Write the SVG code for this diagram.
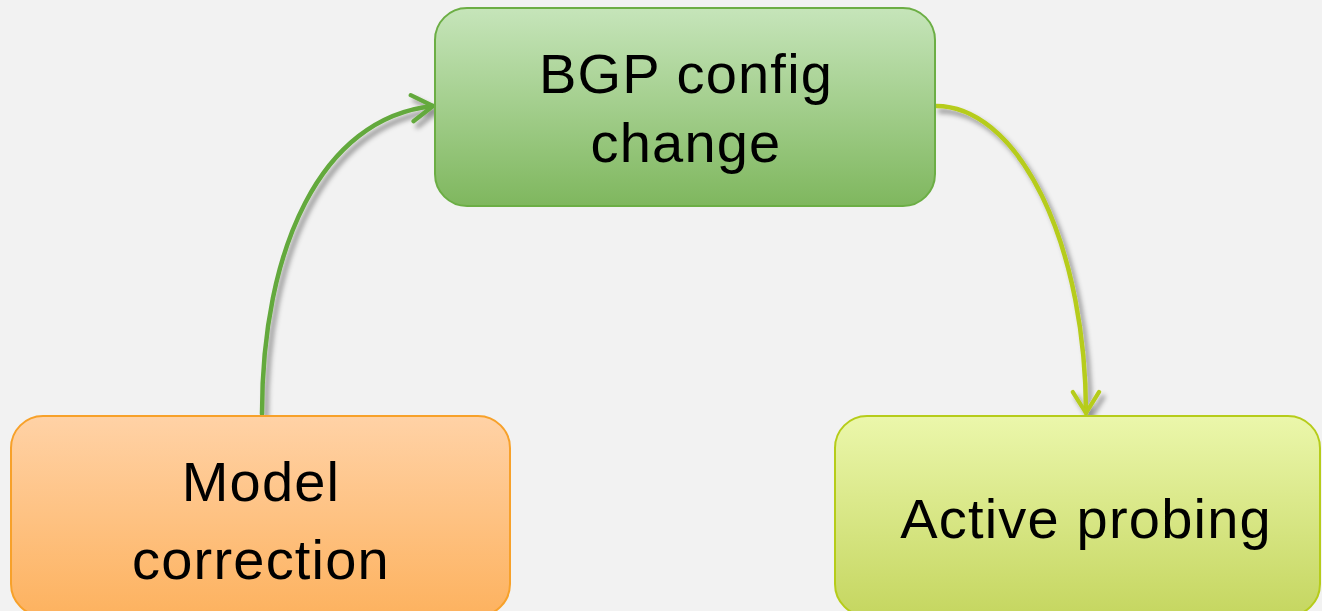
<svg xmlns="http://www.w3.org/2000/svg" width="1322" height="611" viewBox="0 0 1322 611">
  <style>
    .label { font-family: "Liberation Sans", Arial, sans-serif; font-size: 56px; letter-spacing: 1.2px; fill: #000; text-anchor: middle; }
    .conn { fill: none; stroke-width: 4.5; stroke-linecap: round; filter: url(#shadow); }
  </style>
  <defs>
    <linearGradient id="gGreen" x1="0" y1="0" x2="0" y2="1">
      <stop offset="0" stop-color="#c6e5ba"/>
      <stop offset="1" stop-color="#7fb75e"/>
    </linearGradient>
    <linearGradient id="gOrange" x1="0" y1="0" x2="0" y2="1">
      <stop offset="0" stop-color="#ffd2a6"/>
      <stop offset="1" stop-color="#fdb25f"/>
    </linearGradient>
    <linearGradient id="gLime" x1="0" y1="0" x2="0" y2="1">
      <stop offset="0" stop-color="#ebf7ab"/>
      <stop offset="1" stop-color="#c5d660"/>
    </linearGradient>
    <filter id="shadow" x="-20%" y="-20%" width="140%" height="140%">
      <feDropShadow dx="4" dy="5" stdDeviation="2.5" flood-color="#000" flood-opacity="0.4"/>
    </filter>
    <marker id="arrGreen" viewBox="0 0 12 12" refX="10" refY="6" markerWidth="7" markerHeight="7" orient="auto" markerUnits="strokeWidth">
      <path d="M2,1 L10,6 L2,11" fill="none" stroke="#64a93c" stroke-width="1.6" stroke-linecap="round" stroke-linejoin="round"/>
    </marker>
    <marker id="arrLime" viewBox="0 0 12 12" refX="10" refY="6" markerWidth="7" markerHeight="7" orient="auto" markerUnits="strokeWidth">
      <path d="M2,1 L10,6 L2,11" fill="none" stroke="#b6cc1a" stroke-width="1.6" stroke-linecap="round" stroke-linejoin="round"/>
    </marker>
    <marker id="arrOrange" viewBox="0 0 12 12" refX="10" refY="6" markerWidth="7" markerHeight="7" orient="auto" markerUnits="strokeWidth">
      <path d="M2,1 L10,6 L2,11" fill="none" stroke="#f7a12a" stroke-width="1.6" stroke-linecap="round" stroke-linejoin="round"/>
    </marker>
  </defs>

  <!-- background -->
  <rect x="0" y="0" width="1322" height="611" fill="#f2f2f2"/>

  <!-- connectors -->
  <g id="connectors">
    <path class="conn" d="M262,414 C262,250 320,118 433,106" stroke="#64a93c" marker-end="url(#arrGreen)"/>
    <path class="conn" d="M936,106 A150,308 0 0 1 1086,413" stroke="#b6cc1a" marker-end="url(#arrLime)"/>
    <path class="conn" d="M835,515 L513,515" stroke="#f7a12a" marker-end="url(#arrOrange)"/>
  </g>

  <!-- nodes -->
  <g id="node-bgp">
    <rect x="435" y="8" width="500" height="198" rx="32" ry="32" fill="url(#gGreen)" stroke="#6cae45" stroke-width="2"/>
    <text class="label" x="686" y="93">BGP config</text>
    <text class="label" x="686" y="162">change</text>
  </g>

  <g id="node-model">
    <rect x="11" y="416" width="499" height="200" rx="32" ry="32" fill="url(#gOrange)" stroke="#f7a12a" stroke-width="2"/>
    <text class="label" x="261" y="501">Model</text>
    <text class="label" x="261" y="579">correction</text>
  </g>

  <g id="node-probing">
    <rect x="835" y="416" width="485" height="200" rx="32" ry="32" fill="url(#gLime)" stroke="#b6cc1a" stroke-width="2"/>
    <text class="label" x="1086" y="538">Active probing</text>
  </g>
</svg>
